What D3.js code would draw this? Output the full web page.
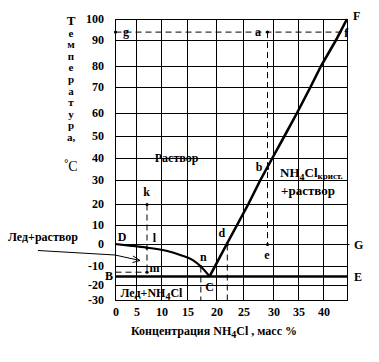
<!DOCTYPE html>
<html>
<head>
<meta charset="utf-8">
<script src="https://cdn.jsdelivr.net/npm/d3@7"></script>
<style>
body { margin: 0; background: #fff; }
text { font-family: "Liberation Serif", "Times New Roman", serif; font-weight: bold; fill: #000; }
</style>
</head>
<body>
<script>
// ticks
var xTicks = [0, 5, 10, 15, 20, 25, 30, 35, 40];
var yTicks = [-30, -20, -10, 0, 10, 20, 30, 40, 50, 60, 70, 80, 90, 100];

// liquidus of ice  D -> l -> n -> C
var iceCurve = [[0, 0], [3.5, -0.7], [7.1, -1.6], [11.2, -3.2], [13.7, -5], [16, -7.3], [17.3, -10], [18.9, -15.5]];
// solubility of NH4Cl  C -> d -> b -> f -> F
var saltCurve = [[18.9, -15.5], [22, 0], [23.9, 10], [25.9, 20], [27.9, 30], [29.9, 40], [32.3, 50],
                 [34.8, 60], [37.5, 70], [39.6, 80], [42.5, 90], [44.6, 100]];
var eutecticT = -15.5;

// named points
var pointNames = ["g", "a", "b", "e", "d", "k", "l", "m", "n"];
var pointX = [0, 29, 29, 29, 22, 7.1, 7.1, 7.1, 17.3];
var pointY = [94, 94, 35.5, 0, 0, 20, -1.6, -13, -10];

// dashed guide lines  [x1, y1, x2, y2]
var guides = [
  [0, 94, 43.9, 94],     // g - f
  [29, 94, 29, 0],       // a - b - e
  [22, 0, 45, 0],        // d - G
  [22, 0, 22, -30],
  [17.3, -10, 17.3, -30],
  [7.1, 20, 7.1, -13],   // k - l - m
  [0, -13, 7.1, -13]
];

var w = 379, h = 362;
var svg = d3.select("body").append("svg").attr("width", w).attr("height", h);

// grid of the original drawing is slightly uneven
var x = d3.scaleLinear()
  .domain([0, 5, 10, 15, 20, 25, 30, 35, 40, 44.6])
  .range([115, 136, 161, 187, 216, 243, 273, 298, 323, 347]);
var y = d3.scaleLinear()
  .domain(yTicks)
  .range([300, 285, 266, 244, 225, 204, 180, 158, 136, 113, 87, 66, 40, 19]);

var xMax = 44.6;

// grid
svg.selectAll(".vg").data(xTicks.slice(1)).enter().append("line")
  .attr("x1", function(d) { return x(d) + 0.5; }).attr("x2", function(d) { return x(d) + 0.5; })
  .attr("y1", y(100)).attr("y2", y(-30))
  .attr("stroke", "#000").attr("stroke-width", 1);
svg.selectAll(".hg").data(yTicks.slice(1, -1)).enter().append("line")
  .attr("x1", x(0)).attr("x2", x(xMax))
  .attr("y1", function(d) { return y(d) + 0.5; }).attr("y2", function(d) { return y(d) + 0.5; })
  .attr("stroke", "#000").attr("stroke-width", 1);
svg.append("rect")
  .attr("x", x(0) + 0.5).attr("y", y(100) + 0.5)
  .attr("width", x(xMax) - x(0)).attr("height", y(-30) - y(100))
  .attr("fill", "none").attr("stroke", "#000");

// tick labels
svg.selectAll(".yl").data(yTicks).enter().append("text")
  .attr("x", 104).attr("y", function(d) { return y(d) + 4; })
  .attr("text-anchor", "end").style("font-size", "12px")
  .text(function(d) { return d; });
svg.selectAll(".xl").data(xTicks).enter().append("text")
  .attr("x", function(d) { return x(d) + 1; }).attr("y", 316)
  .attr("text-anchor", "middle").style("font-size", "12px")
  .text(function(d) { return d; });

// dashed guides
svg.selectAll(".guide").data(guides).enter().append("line")
  .attr("x1", function(d) { return x(d[0]) + 0.5; }).attr("y1", function(d) { return y(d[1]) + 0.5; })
  .attr("x2", function(d) { return x(d[2]) + 0.5; }).attr("y2", function(d) { return y(d[3]) + 0.5; })
  .attr("stroke", "#000").attr("stroke-width", 1).attr("stroke-dasharray", "6,4");

// eutectic line B - E
svg.append("line")
  .attr("x1", x(0)).attr("x2", x(xMax))
  .attr("y1", y(eutecticT)).attr("y2", y(eutecticT))
  .attr("stroke", "#000").attr("stroke-width", 2.5);

var line = d3.line().x(function(d) { return x(d[0]); }).y(function(d) { return y(d[1]); });
svg.append("path").datum(iceCurve)
  .attr("d", line.curve(d3.curveMonotoneX))
  .attr("fill", "none").attr("stroke", "#000").attr("stroke-width", 2.2);
svg.append("path").datum(saltCurve)
  .attr("d", d3.line().x(function(d) { return x(d[0]); }).y(function(d) { return y(d[1]); }))
  .attr("fill", "none").attr("stroke", "#000").attr("stroke-width", 2.6);

// dots
svg.selectAll(".pt").data(pointX).enter().append("circle")
  .attr("cx", function(d) { return x(d) + 0.5; })
  .attr("cy", function(d, i) { return y(pointY[i]) + 0.5; })
  .attr("r", 1.6).attr("fill", "#000");

// point labels, offsets from their points
var labelDx = [11, -9, -8, 0, -5, 0, 8, 8, 3];
var labelDy = [4, 4, 3, 15, -7, -8, -6, 0, -5];
svg.selectAll(".pl").data(pointNames).enter().append("text")
  .attr("x", function(d, i) { return x(pointX[i]) + labelDx[i]; })
  .attr("y", function(d, i) { return y(pointY[i]) + labelDy[i]; })
  .attr("text-anchor", "middle").style("font-size", "12px")
  .text(function(d) { return d; });

function lbl(tx, ty, s, anchor, size) {
  return svg.append("text").attr("x", tx).attr("y", ty)
    .attr("text-anchor", anchor || "middle").style("font-size", (size || 12) + "px").text(s);
}
lbl(x(0) + 7, y(0) - 3, "D");
lbl(x(0) - 2, y(eutecticT) + 4, "B", "end");
lbl(x(xMax) + 7, y(eutecticT) + 5, "E", "start");
lbl(x(xMax) + 7, y(0) + 5, "G", "start");
lbl(x(18.9), y(eutecticT) + 15, "C");
lbl(x(43.9) + 3, y(94) + 5, "f");
lbl(x(xMax) + 6, y(100) + 1, "F", "start");

// region labels
lbl(x(13), y(40) + 4, "Раствор");
var t1 = svg.append("text").attr("x", x(31.4)).attr("y", 177).style("font-size", "13px");
t1.append("tspan").text("NH");
t1.append("tspan").attr("dy", 4).style("font-size", "10px").text("4");
t1.append("tspan").attr("dy", -4).text("Cl");
t1.append("tspan").attr("dy", 2).style("font-size", "9px").text("крист.");
lbl(x(31.4) + 1, 195, "+раствор", "start", 13);

var t2 = svg.append("text").attr("x", x(1.3)).attr("y", 297).style("font-size", "12px");
t2.append("tspan").text("Лед+NH");
t2.append("tspan").attr("dy", 3).style("font-size", "10px").text("4");
t2.append("tspan").attr("dy", -3).text("Cl");

lbl(8, 241, "Лед+раствор", "start", 12);
svg.append("path")
  .attr("d", "M38,250.5 L115,255 L140,260.5 M133,256 L140,260.5 L132.5,262.5")
  .attr("fill", "none").attr("stroke", "#000").attr("stroke-width", 1);

// axis titles
var yTitle = ["Т", "е", "м", "п", "е", "р", "а", "т", "у", "р", "а,"];
svg.selectAll(".yt").data(yTitle).enter().append("text")
  .attr("x", 71).attr("y", function(d, i) { return 25 + i * 11.6; })
  .attr("text-anchor", "middle").style("font-size", function(d, i) { return i === 0 ? "13px" : "11px"; })
  .text(function(d) { return d; });
var deg = svg.append("text").attr("x", 71).attr("y", 171).attr("text-anchor", "middle").style("font-size", "14px");
deg.append("tspan").style("font-size", "10px").attr("dy", -4).text("°");
deg.append("tspan").attr("dy", 4).style("font-weight", "normal").text("C");

var xt = svg.append("text").attr("x", 214).attr("y", 335).attr("text-anchor", "middle").style("font-size", "12px");
xt.append("tspan").text("Концентрация   NH");
xt.append("tspan").attr("dy", 3).style("font-size", "10px").text("4");
xt.append("tspan").attr("dy", -3).text("Cl , масс %");
</script>
</body>
</html>
